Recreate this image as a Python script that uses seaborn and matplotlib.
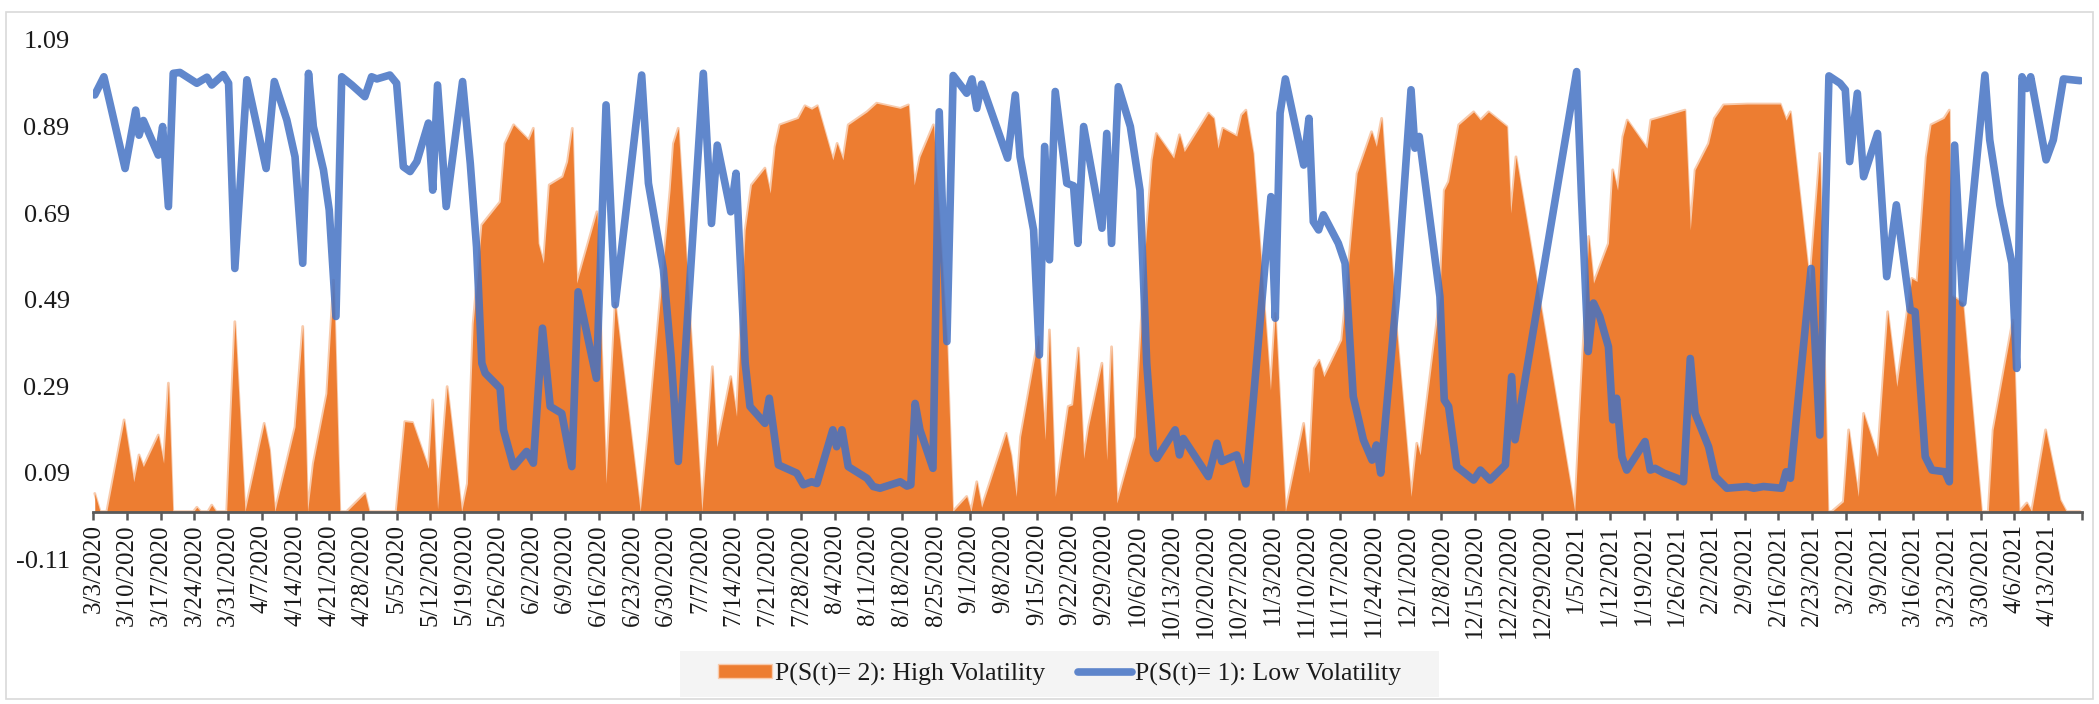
import numpy as np
import pandas as pd
import matplotlib
matplotlib.use("Agg")
import matplotlib.pyplot as plt
import seaborn as sns
from matplotlib.patches import Rectangle, Patch
from matplotlib.lines import Line2D
from matplotlib.ticker import FixedLocator, FixedFormatter

# ---------------- data ----------------
start_date = "3/3/2020"
end_date = "4/20/2021"

x_tick_labels = [
    "3/3/2020", "3/10/2020", "3/17/2020", "3/24/2020", "3/31/2020", "4/7/2020",
    "4/14/2020", "4/21/2020", "4/28/2020", "5/5/2020", "5/12/2020", "5/19/2020",
    "5/26/2020", "6/2/2020", "6/9/2020", "6/16/2020", "6/23/2020", "6/30/2020",
    "7/7/2020", "7/14/2020", "7/21/2020", "7/28/2020", "8/4/2020", "8/11/2020",
    "8/18/2020", "8/25/2020", "9/1/2020", "9/8/2020", "9/15/2020", "9/22/2020",
    "9/29/2020", "10/6/2020", "10/13/2020", "10/20/2020", "10/27/2020", "11/3/2020",
    "11/10/2020", "11/17/2020", "11/24/2020", "12/1/2020", "12/8/2020", "12/15/2020",
    "12/22/2020", "12/29/2020", "1/5/2021", "1/12/2021", "1/19/2021", "1/26/2021",
    "2/2/2021", "2/9/2021", "2/16/2021", "2/23/2021", "3/2/2021", "3/9/2021",
    "3/16/2021", "3/23/2021", "3/30/2021", "4/6/2021", "4/13/2021",
]
y_ticks = [-0.11, 0.09, 0.29, 0.49, 0.69, 0.89, 1.09]

high_label = "P(S(t)= 2): High Volatility"
low_label = "P(S(t)= 1): Low Volatility"

# days elapsed since start_date, and probability of the high-volatility regime
high_day = [
    0.3, 1.4, 2.8, 6.4, 8.4, 9.5, 10.4, 13.5, 14.6, 15.6, 16.5, 20.8, 21.5, 22.3,
    23.8, 24.6, 25.5, 27.7, 29.4, 31.5, 35.5, 36.6, 37.7, 41.9, 43.5, 44.5, 45.7,
    48.5, 49.9, 51.2, 52.6, 56.4, 57.3, 62.9, 64.7, 66.3, 69.6, 70.5, 71.5, 73.5,
    76.5, 77.7, 78.9, 80.7, 84.5, 85.5, 87.3, 90.4, 91.4, 92.4, 93.5, 94.7, 97.5,
    98.5, 99.5, 100.4, 104.6, 106.5, 108.4, 113.6, 115.3, 119.8, 120.5, 121.5,
    126.4, 128.6, 129.5, 132.4, 133.6, 135.4, 136.7, 139.5, 140.6, 141.6, 142.6,
    146.4, 147.8, 149.2, 150.4, 153.6, 154.5, 155.7, 156.8, 160.7, 162.7, 167.6,
    169.3, 170.5, 171.7, 174.5, 177.3, 178.5, 181.4, 182.3, 183.5, 184.5, 189.6,
    190.6, 191.7, 192.6, 196.3, 197.7, 198.6, 199.8, 202.5, 203.4, 204.6, 205.7,
    206.7, 209.5, 210.5, 211.5, 212.6, 216.4, 218.5, 219.9, 220.8, 224.4, 225.6,
    226.6, 231.6, 232.7, 233.6, 234.6, 237.5, 238.5, 239.4, 240.9, 244.5, 245.5,
    247.6, 251.4, 252.5, 253.6, 254.6, 255.6, 259.3, 260.5, 261.7, 262.5, 265.5,
    266.5, 267.6, 270.7, 273.7, 274.9, 275.6, 279.7, 280.6, 281.5, 283.6, 286.7,
    288.1, 289.8, 293.6, 294.4, 295.5, 307.7, 310.6, 311.6, 314.7, 315.6, 316.6,
    317.7, 318.6, 322.7, 323.5, 325.4, 330.6, 331.7, 332.7, 335.5, 336.7, 338.6,
    343.5, 350.4, 351.6, 352.5, 356.5, 358.6, 360.3, 361.1, 363.5, 364.6, 366.6,
    367.7, 370.6, 372.7, 374.6, 377.7, 378.8, 380.7, 381.7, 384.4, 385.5, 386.0,
    388.3, 392.2, 393.6, 394.6, 398.7, 400.0, 401.6, 402.6, 405.5, 408.5, 409.8,
    412.7,
]
high_prob = [
    0.042, 0.0, 0.0, 0.212, 0.069, 0.131, 0.104, 0.177, 0.112, 0.297, 0.0, 0.0,
    0.010, 0.0, 0.0, 0.015, 0.0, 0.0, 0.439, 0.0, 0.204, 0.143, 0.0, 0.196, 0.428,
    0.0, 0.112, 0.273, 0.535, 0.0, 0.0, 0.042, 0.0, 0.0, 0.208, 0.206, 0.100,
    0.258, 0.006, 0.289, 0.0, 0.065, 0.435, 0.663, 0.716, 0.851, 0.894, 0.859,
    0.886, 0.620, 0.574, 0.755, 0.774, 0.809, 0.886, 0.528, 0.693, 0.065, 0.482,
    0.0, 0.189, 0.743, 0.851, 0.886, 0.0, 0.335, 0.150, 0.312, 0.220, 0.651,
    0.755, 0.794, 0.736, 0.844, 0.894, 0.909, 0.938, 0.930, 0.938, 0.813, 0.851,
    0.813, 0.894, 0.924, 0.944, 0.932, 0.940, 0.755, 0.820, 0.894, 0.390, 0.0,
    0.035, 0.0, 0.069, 0.010, 0.181, 0.131, 0.035, 0.173, 0.404, 0.166, 0.420,
    0.035, 0.243, 0.247, 0.378, 0.123, 0.196, 0.343, 0.119, 0.381, 0.020, 0.173,
    0.612, 0.813, 0.874, 0.817, 0.871, 0.832, 0.921, 0.909, 0.840, 0.886, 0.868,
    0.917, 0.928, 0.828, 0.281, 0.458, 0.0, 0.204, 0.089, 0.331, 0.350, 0.312,
    0.397, 0.543, 0.690, 0.782, 0.878, 0.844, 0.909, 0.420, 0.035, 0.158, 0.131,
    0.497, 0.743, 0.763, 0.894, 0.924, 0.905, 0.924, 0.890, 0.690, 0.820, 0.0,
    0.636, 0.528, 0.620, 0.790, 0.743, 0.867, 0.905, 0.840, 0.905, 0.911, 0.928,
    0.651, 0.790, 0.851, 0.909, 0.940, 0.942, 0.942, 0.905, 0.924, 0.528, 0.828,
    0.0, 0.0, 0.023, 0.189, 0.035, 0.227, 0.127, 0.462, 0.289, 0.539, 0.532,
    0.820, 0.894, 0.909, 0.928, 0.500, 0.482, 0.0, 0.0, 0.189, 0.443, 0.0, 0.020,
    0.0, 0.189, 0.027, 0.0, 0.0,
]

# days elapsed since start_date, and probability of the low-volatility regime
low_day = [
    0.3, 2.2, 6.6, 8.8, 9.5, 10.4, 13.5, 14.4, 15.6, 16.6, 18.0, 21.5, 23.6, 24.6,
    27.0, 28.1, 29.4, 31.9, 35.9, 37.6, 40.2, 41.9, 43.5, 44.7, 45.7, 47.8, 49.0,
    50.4, 51.6, 53.7, 56.4, 57.8, 58.9, 61.6, 63.0, 64.4, 65.8, 67.2, 69.6, 70.5,
    71.5, 73.3, 76.7, 78.3, 79.6, 80.7, 81.4, 84.5, 85.2, 87.3, 90.0, 91.4, 93.3,
    94.9, 97.3, 99.4, 100.7, 104.5, 106.5, 108.4, 113.9, 115.3, 118.4, 120.0,
    121.5, 126.7, 128.4, 129.6, 132.4, 133.5, 135.4, 136.4, 139.5, 140.4, 142.3,
    146.1, 147.5, 149.2, 150.3, 153.6, 154.4, 155.5, 156.8, 160.7, 162.0, 163.4,
    167.6, 169.0, 169.8, 170.7, 171.7, 174.4, 175.7, 177.3, 178.6, 181.4, 182.5,
    183.5, 184.5, 189.9, 191.5, 192.5, 195.3, 196.5, 197.6, 198.6, 199.8, 202.2,
    203.6, 204.5, 205.7, 209.5, 210.5, 211.5, 212.9, 215.4, 217.4, 218.8, 220.2,
    220.9, 224.7, 225.6, 226.4, 231.6, 233.4, 234.4, 237.5, 239.4, 241.0, 244.6,
    245.5, 246.5, 247.6, 251.4, 252.5, 253.4, 254.5, 255.5, 258.6, 260.0, 261.7,
    263.8, 265.6, 266.5, 267.4, 270.7, 273.7, 274.5, 275.4, 279.7, 280.6, 281.5,
    283.2, 286.7, 288.1, 290.1, 293.3, 294.6, 295.3, 308.1, 309.1, 310.5, 311.6,
    312.9, 314.7, 315.6, 316.4, 317.5, 318.5, 322.3, 323.4, 324.4, 326.2, 329.0,
    330.3, 331.7, 332.7, 335.5, 336.9, 339.3, 343.5, 344.9, 346.9, 350.7, 351.6,
    352.5, 356.8, 358.6, 360.5, 362.8, 363.9, 364.8, 366.4, 367.7, 370.6, 372.5,
    374.5, 377.4, 378.4, 380.5, 381.9, 384.6, 385.5, 386.6, 388.3, 392.9, 393.9,
    396.0, 398.5, 399.5, 400.6, 401.6, 402.4, 405.6, 407.1, 409.2, 412.7,
]
low_prob = [
    0.963, 1.005, 0.793, 0.928, 0.870, 0.904, 0.824, 0.890, 0.705, 1.013, 1.015,
    0.990, 1.004, 0.986, 1.010, 0.990, 0.562, 0.998, 0.793, 0.994, 0.905, 0.820,
    0.574, 1.013, 0.890, 0.790, 0.697, 0.451, 1.005, 0.986, 0.959, 1.005, 1.000,
    1.009, 0.990, 0.797, 0.786, 0.809, 0.898, 0.743, 0.986, 0.705, 0.994, 0.805,
    0.612, 0.343, 0.320, 0.285, 0.189, 0.104, 0.139, 0.112, 0.424, 0.243, 0.227,
    0.104, 0.508, 0.308, 0.940, 0.478, 1.009, 0.759, 0.560, 0.360, 0.116, 1.013,
    0.666, 0.847, 0.693, 0.782, 0.343, 0.243, 0.204, 0.262, 0.108, 0.089, 0.062,
    0.069, 0.065, 0.189, 0.150, 0.189, 0.104, 0.077, 0.058, 0.054, 0.069, 0.059,
    0.062, 0.250, 0.189, 0.100, 0.924, 0.393, 1.008, 0.967, 1.000, 0.932, 0.988,
    0.817, 0.963, 0.820, 0.651, 0.362, 0.844, 0.582, 0.971, 0.759, 0.753, 0.620,
    0.890, 0.655, 0.874, 0.620, 0.982, 0.890, 0.743, 0.343, 0.135, 0.123, 0.189,
    0.131, 0.169, 0.081, 0.158, 0.116, 0.131, 0.064, 0.266, 0.728, 0.447, 0.921,
    1.000, 0.801, 0.909, 0.670, 0.651, 0.686, 0.620, 0.574, 0.266, 0.166, 0.119,
    0.154, 0.089, 0.497, 0.975, 0.840, 0.867, 0.497, 0.258, 0.243, 0.104, 0.073,
    0.096, 0.073, 0.108, 0.312, 0.166, 1.017, 0.728, 0.370, 0.482, 0.451, 0.381,
    0.212, 0.262, 0.127, 0.096, 0.162, 0.096, 0.100, 0.089, 0.077, 0.069, 0.354,
    0.227, 0.150, 0.081, 0.054, 0.058, 0.054, 0.058, 0.054, 0.092, 0.077, 0.562,
    0.177, 1.007, 0.990, 0.975, 0.809, 0.967, 0.774, 0.874, 0.543, 0.709, 0.466,
    0.462, 0.127, 0.096, 0.092, 0.069, 0.847, 0.482, 1.009, 0.859, 0.709, 0.574,
    0.331, 1.005, 0.978, 1.005, 0.813, 0.859, 1.000, 0.996,
]

# ---------------- style ----------------
sns.set_style("white")
plt.rcParams["font.family"] = ["Liberation Serif", "DejaVu Serif"]

ORANGE = "#ED7D31"
ORANGE_EDGE = "#F8CBAD"
BLUE = "#4472C4"
AXIS_GREY = "#595959"
TEXT = "#1A1A1A"
X_FS = 18
Y_FS = 19
LEG_FS = 18.5
LINE_W = 5.5

t0 = pd.to_datetime(start_date, format="%m/%d/%Y")
t1 = pd.to_datetime(end_date, format="%m/%d/%Y")
high_df = pd.DataFrame({"date": t0 + pd.to_timedelta(high_day, unit="D"),
                        "prob": high_prob})
low_df = pd.DataFrame({"date": t0 + pd.to_timedelta(low_day, unit="D"),
                       "prob": low_prob})
tick_dates = pd.to_datetime(x_tick_labels, format="%m/%d/%Y")

fig = plt.figure(figsize=(20.99, 7.04), dpi=100)
fig.patch.set_facecolor("white")
ax = fig.add_axes([93.3 / 2099, 1 - 559.2 / 704,
                   (2081.7 - 93.3) / 2099, 519.2 / 704])
ax.set_facecolor("none")

# orange area (high volatility)
ax.plot(high_df["date"], high_df["prob"], color=ORANGE_EDGE, lw=2.0, zorder=1.9)
ax.fill_between(high_df["date"], 0, high_df["prob"], color=ORANGE,
                lw=0, zorder=2)

# blue line (low volatility)
sns.lineplot(data=low_df, x="date", y="prob", ax=ax, color=BLUE, alpha=0.85,
             lw=LINE_W, estimator=None, sort=False, zorder=3,
             solid_joinstyle="round", solid_capstyle="round")

ax.set_xlim(t0, t1)
ax.set_ylim(y_ticks[0], y_ticks[-1])
ax.set_xlabel("")
ax.set_ylabel("")

tick_nums = matplotlib.dates.date2num(tick_dates.to_pydatetime())
ax.xaxis.set_major_locator(FixedLocator(tick_nums))
ax.xaxis.set_major_formatter(FixedFormatter(x_tick_labels))
ax.xaxis.set_minor_locator(FixedLocator([matplotlib.dates.date2num(t1.to_pydatetime())]))
ax.tick_params(axis="x", which="both", direction="out", length=6, width=1.8,
               color=AXIS_GREY, pad=3, bottom=True, labelrotation=90,
               labelsize=X_FS, labelcolor=TEXT)

ax.yaxis.set_major_locator(FixedLocator(y_ticks))
ax.yaxis.set_major_formatter(FixedFormatter([f"{v:.2f}" for v in y_ticks]))
ax.tick_params(axis="y", length=0, pad=17, left=True, labelsize=Y_FS,
               labelcolor=TEXT)

for side in ["top", "right", "left"]:
    ax.spines[side].set_visible(False)
ax.spines["bottom"].set_position(("data", 0))
ax.spines["bottom"].set_color(AXIS_GREY)
ax.spines["bottom"].set_linewidth(2.0)
ax.spines["bottom"].set_zorder(4)
ax.grid(False)

# legend
legend_bg = Rectangle((680 / 2099, 1 - 697 / 704), 759 / 2099, 46 / 704,
                      transform=fig.transFigure, facecolor="#F4F4F4",
                      edgecolor="none", zorder=0)
fig.add_artist(legend_bg)
handles = [Patch(facecolor=ORANGE, edgecolor=ORANGE_EDGE, lw=1.0),
           Line2D([0], [0], color=BLUE, alpha=0.85, lw=LINE_W,
                  solid_capstyle="round")]
fig.legend(handles, [high_label, low_label], loc="center",
           bbox_to_anchor=(1059.5 / 2099, 1 - 674 / 704), ncol=2,
           frameon=False, fontsize=LEG_FS, handlelength=2.1, handleheight=0.5,
           handletextpad=0.1, columnspacing=1.3, labelcolor=TEXT)

# outer chart border
border = Rectangle((6 / 2099, 1 - 699 / 704), 2087 / 2099, 687 / 704,
                   transform=fig.transFigure, facecolor="none",
                   edgecolor="#D9D9D9", lw=1.2, zorder=0)
fig.add_artist(border)

fig.savefig("out.png", dpi=100, facecolor="white")
